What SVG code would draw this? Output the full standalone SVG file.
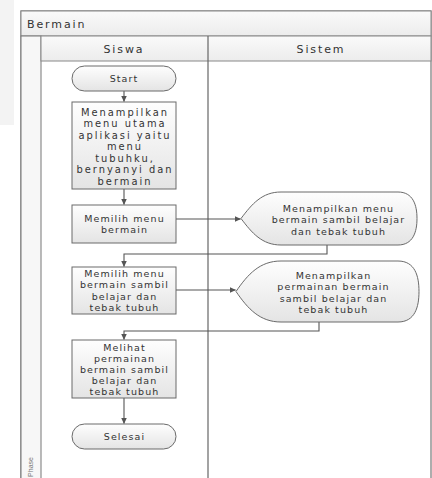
<svg xmlns="http://www.w3.org/2000/svg" width="432" height="478" viewBox="0 0 432 478">
<style>
text{font-family:"DejaVu Sans","Open Sans",sans-serif;fill:#333;text-anchor:middle}
.t{font-size:9.5px;letter-spacing:1.1px}
.t1{font-size:9.9px;letter-spacing:2px}
.hd{font-size:11px;letter-spacing:1.9px}
.node{stroke:#6a6a6a;stroke-width:1;fill:url(#g)}
.frame{fill:none;stroke:#777;stroke-width:1.2}
.conn{fill:none;stroke:#555;stroke-width:1.1}
</style>
<defs>
<linearGradient id="g" x1="0" y1="0" x2="0" y2="1">
<stop offset="0" stop-color="#fefefe"/>
<stop offset="1" stop-color="#e4e4e4"/>
</linearGradient>
<linearGradient id="hg" x1="0" y1="0" x2="0" y2="1">
<stop offset="0" stop-color="#fafafa"/>
<stop offset="1" stop-color="#ececec"/>
</linearGradient>
<marker id="arr" markerWidth="7" markerHeight="7" refX="6" refY="3.5" orient="auto" markerUnits="userSpaceOnUse">
<path d="M0,0.5 L6.5,3.5 L0,6.5 Z" fill="#555"/>
</marker>
</defs>
<rect x="0" y="0" width="432" height="478" fill="#fff"/>
<rect x="0" y="0" width="14" height="125" fill="#f3f3f3"/>

<g id="pool">
<rect x="21" y="11" width="410" height="472" fill="#fff" class="frame"/>
<rect x="21" y="11" width="410" height="25" fill="url(#hg)" stroke="#888"/>
<text x="27" y="28" class="hd" style="text-anchor:start">Bermain</text>
<rect x="21" y="36" width="20" height="447" fill="#f7f7f7" stroke="#777"/>
<rect x="41" y="36" width="390" height="25" fill="url(#hg)" stroke="#888"/>
<line x1="208" y1="36" x2="208" y2="483" stroke="#666" stroke-width="1.2"/>
<text x="124" y="53" class="hd">Siswa</text>
<text x="321" y="53" class="hd">Sistem</text>
<text transform="translate(33,467) rotate(-90)" style="font-size:7px;fill:#777;font-family:'Liberation Sans Narrow','Liberation Sans',sans-serif">Phase</text>
</g>

<g id="connectors">
<line class="conn" x1="124" y1="91" x2="124" y2="101.5" marker-end="url(#arr)"/>
<line class="conn" x1="124" y1="189" x2="124" y2="204.5" marker-end="url(#arr)"/>
<line class="conn" x1="176" y1="219" x2="240.5" y2="219" marker-end="url(#arr)"/>
<polyline class="conn" points="327,245 327,254 124,254 124,266.5" marker-end="url(#arr)"/>
<line class="conn" x1="176" y1="290" x2="235.5" y2="290" marker-end="url(#arr)"/>
<polyline class="conn" points="319,322 319,331 124,331 124,339.5" marker-end="url(#arr)"/>
<line class="conn" x1="124" y1="398" x2="124" y2="423.5" marker-end="url(#arr)"/>
</g>

<g id="start">
<rect class="node" x="72" y="66" width="104" height="25" rx="12.5"/>
<text class="t" x="124" y="82">Start</text>
</g>

<g id="menampilkan-menu-utama">
<rect class="node" x="72" y="102" width="104" height="87"/>
<text class="t1" x="125" y="115.5">Menampilkan</text>
<text class="t1" x="125" y="127">menu utama</text>
<text class="t1" x="125" y="138.5">aplikasi yaitu</text>
<text class="t1" x="125" y="150">menu</text>
<text class="t1" x="125" y="161.5">tubuhku,</text>
<text class="t1" x="125" y="173">bernyanyi dan</text>
<text class="t1" x="125" y="184.5">bermain</text>
</g>

<g id="memilih-menu-bermain">
<rect class="node" x="72" y="205" width="104" height="38"/>
<text class="t" x="124.5" y="221.5">Memilih menu</text>
<text class="t" x="124.5" y="233">bermain</text>
</g>

<g id="menampilkan-menu-bermain">
<path class="node" d="M241,218.5 C252,204 262,192 281,192 L398,192 C413,192 417,205 417,218.5 C417,232 413,245 398,245 L281,245 C262,245 252,233 241,218.5 Z"/>
<text class="t" x="338.5" y="211.5">Menampilkan menu</text>
<text class="t" x="338.5" y="223">bermain sambil belajar</text>
<text class="t" x="338.5" y="234.5">dan tebak tubuh</text>
</g>

<g id="memilih-menu-sambil-belajar">
<rect class="node" x="72" y="267" width="104" height="47"/>
<text class="t" x="124.5" y="277">Memilih menu</text>
<text class="t" x="124.5" y="288.3">bermain sambil</text>
<text class="t" x="124.5" y="299.6">belajar dan</text>
<text class="t" x="124.5" y="311">tebak tubuh</text>
</g>

<g id="menampilkan-permainan">
<path class="node" d="M236,291.5 C248,274 260,261 281,261 L398,261 C415,261 419,276 419,291.5 C419,307 415,322 398,322 L281,322 C260,322 248,309 236,291.5 Z"/>
<text class="t" x="333.5" y="279">Menampilkan</text>
<text class="t" x="333.5" y="290.3">permainan bermain</text>
<text class="t" x="333.5" y="301.6">sambil belajar dan</text>
<text class="t" x="333.5" y="313">tebak tubuh</text>
</g>

<g id="melihat-permainan">
<rect class="node" x="72" y="340" width="104" height="58"/>
<text class="t" x="124.5" y="350.5">Melihat</text>
<text class="t" x="124.5" y="361.5">permainan</text>
<text class="t" x="124.5" y="372.5">bermain sambil</text>
<text class="t" x="124.5" y="383.5">belajar dan</text>
<text class="t" x="124.5" y="394.5">tebak tubuh</text>
</g>

<g id="selesai">
<rect class="node" x="72" y="424" width="104" height="25" rx="12.5"/>
<text class="t" x="124.5" y="440">Selesai</text>
</g>
</svg>
